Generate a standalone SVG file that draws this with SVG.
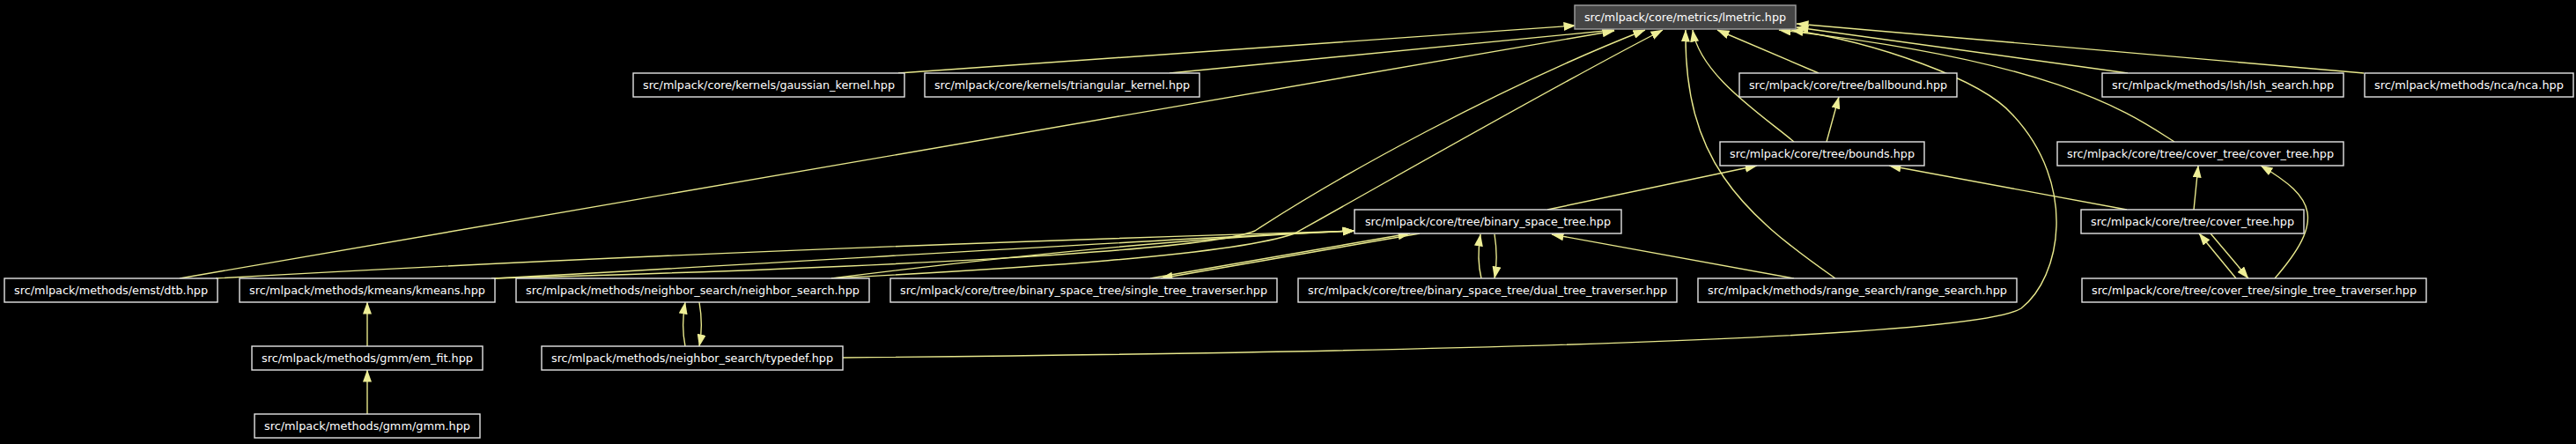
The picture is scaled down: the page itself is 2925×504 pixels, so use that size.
<svg xmlns="http://www.w3.org/2000/svg" width="2925" height="504" viewBox="0 0 2925 504">
<style>
.n rect{fill:#000;stroke:#e4e4e4;stroke-width:1.4}
.n text{font-family:"DejaVu Sans",sans-serif;font-size:12.6px;fill:#fff;text-anchor:middle}
#lmetric rect{fill:#454545;stroke:#a0a0a0}
.e path{fill:none;stroke:#e8e88c;stroke-width:1.4;marker-end:url(#ah)}
</style>
<defs>
<marker id="ah" markerUnits="userSpaceOnUse" markerWidth="14" markerHeight="10" refX="13.5" refY="5" orient="auto">
<path d="M0,0 L14,5 L0,10 z" fill="#eeee96"/>
</marker>
</defs>
<rect x="0" y="0" width="2925" height="504" fill="#000"/>
<g class="e" id="edges">
<path d="M1020,83 L1789,29"/>
<path d="M1328,83 L1833,34"/>
<path d="M204,316 L1833,35"/>
<path d="M2065,83 L1950,34"/>
<path d="M2037,161 C2000,130 1930,85 1922,34"/>
<path d="M2084,316 C1975,240 1912,180 1914,34"/>
<path d="M558,316 C1000,304 1370,285 1425,262 C1520,200 1700,100 1868,34"/>
<path d="M944,316 C1150,305 1400,290 1470,265 C1560,215 1760,100 1888,34"/>
<path d="M2416,83 L2040,31"/>
<path d="M2684,83 L2040,27"/>
<path d="M2469,161 C2420,130 2340,70 2020,34"/>
<path d="M957,406 C1600,400 2240,385 2295,350 C2340,315 2360,210 2285,130 C2250,90 2130,48 2034,34"/>
<path d="M2491,238 L2496,188"/>
<path d="M2415,238 L2145,188"/>
<path d="M1757,238 L1995,188"/>
<path d="M2074,161 L2088,110"/>
<path d="M2539,316 L2497,265"/>
<path d="M2510,265 L2553,316"/>
<path d="M2583,316 C2640,250 2630,225 2567,188"/>
<path d="M2037,316 L1762,266"/>
<path d="M1682,316 C1678,300 1678,285 1681,266"/>
<path d="M1697,266 C1700,285 1700,300 1697,316"/>
<path d="M1306,316 L1601,265"/>
<path d="M1612,265 L1318,316"/>
<path d="M245,316 C700,290 1200,272 1538,262"/>
<path d="M561,316 C900,298 1300,272 1538,262"/>
<path d="M944,316 C1150,290 1350,270 1538,262"/>
<path d="M417,393 L417,343"/>
<path d="M417,470 L417,420"/>
<path d="M794,343 C797,360 797,378 794,393"/>
<path d="M778,393 C775,378 775,360 778,343"/>
</g>
<g class="n" id="lmetric"><rect x="1788" y="6" width="251" height="27"/><text x="1913.5" y="24" textLength="229" lengthAdjust="spacingAndGlyphs">src/mlpack/core/metrics/lmetric.hpp</text></g>
<g class="n" id="gaussian_kernel"><rect x="719" y="83" width="308" height="27"/><text x="873" y="101" textLength="286" lengthAdjust="spacingAndGlyphs">src/mlpack/core/kernels/gaussian_kernel.hpp</text></g>
<g class="n" id="triangular_kernel"><rect x="1050" y="83" width="312" height="27"/><text x="1206" y="101" textLength="290" lengthAdjust="spacingAndGlyphs">src/mlpack/core/kernels/triangular_kernel.hpp</text></g>
<g class="n" id="ballbound"><rect x="1975" y="83" width="247" height="27"/><text x="2098.5" y="101" textLength="225" lengthAdjust="spacingAndGlyphs">src/mlpack/core/tree/ballbound.hpp</text></g>
<g class="n" id="lsh_search"><rect x="2387" y="83" width="274" height="27"/><text x="2524" y="101" textLength="252" lengthAdjust="spacingAndGlyphs">src/mlpack/methods/lsh/lsh_search.hpp</text></g>
<g class="n" id="nca"><rect x="2685" y="83" width="237" height="27"/><text x="2803.5" y="101" textLength="215" lengthAdjust="spacingAndGlyphs">src/mlpack/methods/nca/nca.hpp</text></g>
<g class="n" id="bounds"><rect x="1953" y="161" width="232" height="27"/><text x="2069" y="179" textLength="210" lengthAdjust="spacingAndGlyphs">src/mlpack/core/tree/bounds.hpp</text></g>
<g class="n" id="cover_tree_cover_tree"><rect x="2336" y="161" width="325" height="27"/><text x="2498.5" y="179" textLength="303" lengthAdjust="spacingAndGlyphs">src/mlpack/core/tree/cover_tree/cover_tree.hpp</text></g>
<g class="n" id="binary_space_tree"><rect x="1538" y="238" width="303" height="27"/><text x="1689.5" y="256" textLength="279" lengthAdjust="spacingAndGlyphs">src/mlpack/core/tree/binary_space_tree.hpp</text></g>
<g class="n" id="cover_tree"><rect x="2363" y="238" width="253" height="27"/><text x="2489.5" y="256" textLength="231" lengthAdjust="spacingAndGlyphs">src/mlpack/core/tree/cover_tree.hpp</text></g>
<g class="n" id="dtb"><rect x="5" y="316" width="242" height="27"/><text x="126" y="334" textLength="220" lengthAdjust="spacingAndGlyphs">src/mlpack/methods/emst/dtb.hpp</text></g>
<g class="n" id="kmeans"><rect x="272" y="316" width="290" height="27"/><text x="417" y="334" textLength="268" lengthAdjust="spacingAndGlyphs">src/mlpack/methods/kmeans/kmeans.hpp</text></g>
<g class="n" id="neighbor_search"><rect x="586" y="316" width="401" height="27"/><text x="786.5" y="334" textLength="379" lengthAdjust="spacingAndGlyphs">src/mlpack/methods/neighbor_search/neighbor_search.hpp</text></g>
<g class="n" id="bst_single_tree_traverser"><rect x="1011" y="316" width="439" height="27"/><text x="1230.5" y="334" textLength="417" lengthAdjust="spacingAndGlyphs">src/mlpack/core/tree/binary_space_tree/single_tree_traverser.hpp</text></g>
<g class="n" id="bst_dual_tree_traverser"><rect x="1474" y="316" width="430" height="27"/><text x="1689" y="334" textLength="408" lengthAdjust="spacingAndGlyphs">src/mlpack/core/tree/binary_space_tree/dual_tree_traverser.hpp</text></g>
<g class="n" id="range_search"><rect x="1928" y="316" width="362" height="27"/><text x="2109" y="334" textLength="340" lengthAdjust="spacingAndGlyphs">src/mlpack/methods/range_search/range_search.hpp</text></g>
<g class="n" id="ct_single_tree_traverser"><rect x="2364" y="316" width="391" height="27"/><text x="2559.5" y="334" textLength="369" lengthAdjust="spacingAndGlyphs">src/mlpack/core/tree/cover_tree/single_tree_traverser.hpp</text></g>
<g class="n" id="em_fit"><rect x="286" y="393" width="262" height="27"/><text x="417" y="411" textLength="240" lengthAdjust="spacingAndGlyphs">src/mlpack/methods/gmm/em_fit.hpp</text></g>
<g class="n" id="typedef"><rect x="615" y="393" width="342" height="27"/><text x="786" y="411" textLength="320" lengthAdjust="spacingAndGlyphs">src/mlpack/methods/neighbor_search/typedef.hpp</text></g>
<g class="n" id="gmm"><rect x="289" y="470" width="256" height="27"/><text x="417" y="488" textLength="234" lengthAdjust="spacingAndGlyphs">src/mlpack/methods/gmm/gmm.hpp</text></g>
</svg>
